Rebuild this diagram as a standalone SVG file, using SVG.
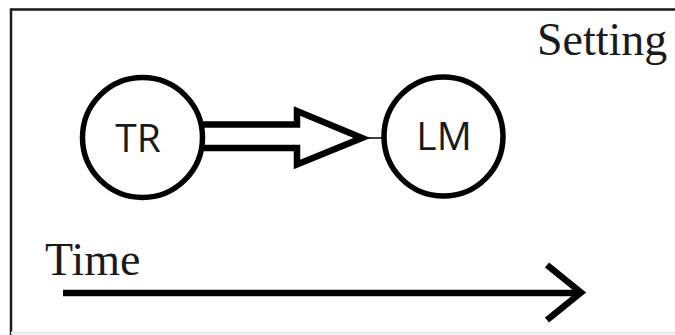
<svg xmlns="http://www.w3.org/2000/svg" width="675" height="335" viewBox="0 0 675 335">
  <style>
    .node circle { fill: #ffffff; stroke: #000000; stroke-width: 5.5; }
    .node text { font-family: "Open Sans", "Liberation Sans", sans-serif; font-size: 39px; fill: #1a1a1a; text-anchor: middle; }
    .label { font-family: "Liberation Serif", "Times New Roman", serif; font-size: 46px; fill: #1a1a1a; }
    .frame { stroke: #1a1a1a; stroke-width: 2.5; fill: none; }
    .edge { fill: none; stroke: #000000; stroke-width: 6.5; }
  </style>

  <rect width="675" height="335" fill="#ffffff"/>

  <!-- frame: top and left edges -->
  <path class="frame" d="M11,335 V9.5 H675"/>
  <line x1="11" y1="333" x2="675" y2="333" stroke="#ececec" stroke-width="3"/>

  <text class="label" x="537" y="55">Setting</text>

  <g id="node-tr" class="node">
    <circle cx="142.5" cy="137.5" r="60"/>
    <text x="138" y="152">TR</text>
  </g>

  <g id="node-lm" class="node">
    <circle cx="443.5" cy="136.5" r="59.5"/>
    <text x="444" y="150">LM</text>
  </g>

  <g id="connectors">
    <!-- hollow block arrow TR -> LM -->
    <path class="edge" stroke-linejoin="miter" stroke-miterlimit="10"
          d="M203,124.5 H297 V111 L362,138 L297,164.5 V148 H203"/>
    <line x1="368" y1="138" x2="382" y2="138" stroke="#000000" stroke-width="1.5"/>

    <!-- time axis -->
    <line class="edge" x1="63" y1="293" x2="581" y2="293"/>
    <path class="edge" stroke-linejoin="miter" d="M547,265 L581,292.5 L547,320"/>
  </g>

  <text class="label" x="45" y="275">Time</text>
</svg>
